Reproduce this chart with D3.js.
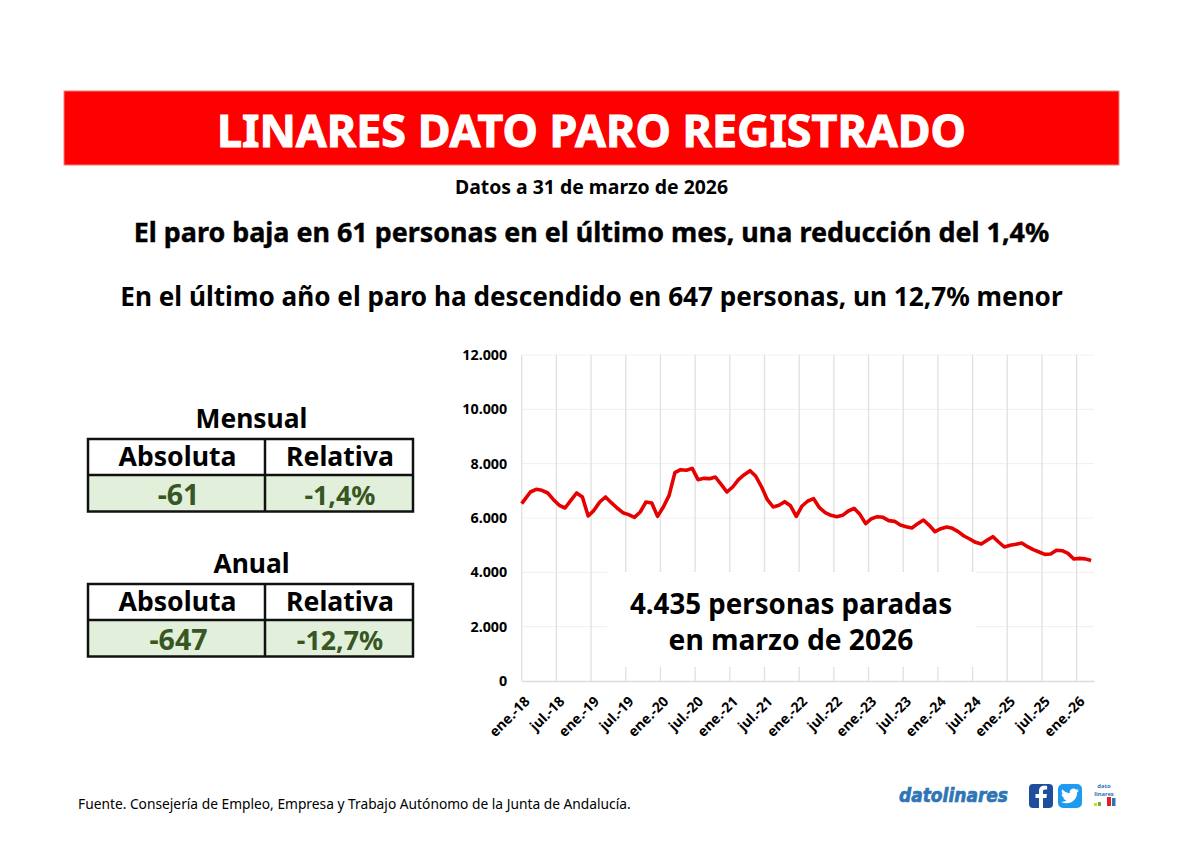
<!DOCTYPE html>
<html lang="es">
<head>
<meta charset="utf-8">
<title>Linares: paro registrado</title>
<script src="https://cdn.jsdelivr.net/npm/d3@7"></script>
<style>
  html, body { margin: 0; background: #fff; }
  svg { display: block; }
  text { font-family: "Noto Sans", "Open Sans", sans-serif; font-weight: 700; fill: #000; }
</style>
</head>
<body>
<svg id="page" width="1200" height="848"></svg>
<script>
// Personas paradas registradas, de enero de 2018 a marzo de 2026
const parados = [
  6530, 6957, 7055, 7018, 6920, 6675, 6466, 6368, 6650, 6920, 6773, 6074,
  6282, 6589, 6773, 6564, 6368, 6196, 6123, 6025, 6221, 6589, 6552, 6061,
  6405, 6834, 7669, 7779, 7755, 7828, 7411, 7460, 7448, 7509, 7239, 6957,
  7141, 7411, 7595, 7742, 7534, 7141, 6675, 6405, 6466, 6601, 6450, 6061,
  6442, 6626, 6712, 6380, 6196, 6098, 6049, 6098, 6258, 6356, 6135, 5791,
  5975, 6049, 6025, 5902, 5877, 5742, 5681, 5632, 5791, 5926, 5730, 5497,
  5607, 5669, 5620, 5497, 5337, 5227, 5104, 5043, 5178, 5313, 5117, 4932,
  4994, 5031, 5082, 4945, 4834, 4748, 4662, 4675, 4810, 4797, 4699, 4491,
  4515, 4496, 4435
];
const etiquetasMeses = [
  "ene.-18", "jul.-18", "ene.-19", "jul.-19", "ene.-20", "jul.-20",
  "ene.-21", "jul.-21", "ene.-22", "jul.-22", "ene.-23", "jul.-23",
  "ene.-24", "jul.-24", "ene.-25", "jul.-25", "ene.-26"
];
const marcasY = [0, 2000, 4000, 6000, 8000, 10000, 12000];
const tablas = [
  { titulo: "Mensual", absoluta: "-61", relativa: "-1,4%" },
  { titulo: "Anual", absoluta: "-647", relativa: "-12,7%" }
];
const cabeceras = ["Absoluta", "Relativa"];
const titulo = "LINARES DATO PARO REGISTRADO";
const fecha = "Datos a 31 de marzo de 2026";
const titularMes = "El paro baja en 61 personas en el último mes, una reducción del 1,4%";
const titularAnio = "En el último año el paro ha descendido en 647 personas, un 12,7% menor";
const notaParados = ["4.435 personas paradas", "en marzo de 2026"];
const fuente = "Fuente. Consejería de Empleo, Empresa y Trabajo Autónomo de la Junta de Andalucía.";

const svg = d3.select("#page");
const textoCentrado = (x, y, size, str) => svg.append("text")
  .attr("x", x).attr("y", y).attr("text-anchor", "middle")
  .attr("font-size", size).text(str);

// Cabecera
svg.append("rect").attr("x", 64).attr("y", 91).attr("width", 1055).attr("height", 74)
  .attr("fill", "#ff0000").attr("stroke", "#f08080").attr("stroke-width", 1);
textoCentrado(591.5, 147, 44.8, titulo).style("fill", "#fff").attr("stroke", "#fff").attr("stroke-width", 1);
textoCentrado(591.5, 194, 19.4, fecha);
textoCentrado(591.5, 242, 26.9, titularMes).attr("stroke", "#000").attr("stroke-width", .4);
textoCentrado(591.5, 306, 26.15, titularAnio);

// Gráfico de líneas: cada mes ocupa un tramo del eje y el punto va en su centro;
// la primera observación arranca en el borde izquierdo
const plot = { left: 521.7, right: 1094, top: 355, bottom: 681 };
const x = d3.scaleLinear().domain([0, parados.length]).range([plot.left, plot.right]);
const y = d3.scaleLinear().domain([0, 12000]).range([plot.bottom, plot.top]);
const miles = d3.formatLocale({ decimal: ",", thousands: ".", grouping: [3], currency: ["", "€"] }).format(",d");
const marcasX = etiquetasMeses.map((_, i) => i * 6);

svg.append("g").selectAll("line").data(marcasY.filter(v => v > 0)).join("line")
  .attr("x1", plot.left).attr("x2", plot.right)
  .attr("y1", d => y(d)).attr("y2", d => y(d))
  .attr("stroke", "#f1f1f1").attr("stroke-width", 1.2);
svg.append("g").selectAll("line").data(marcasX).join("line")
  .attr("x1", d => x(d)).attr("x2", d => x(d))
  .attr("y1", plot.top).attr("y2", plot.bottom)
  .attr("stroke", "#e0e0e0").attr("stroke-width", 1.3);

// Recuadro blanco de la nota, que tapa la rejilla
svg.append("rect").attr("x", 607).attr("y", 572).attr("width", 369).attr("height", 95).attr("fill", "#fff");

const ejeY = d3.axisLeft(y).tickValues(marcasY).tickFormat(miles).tickSize(0).tickPadding(14.5);
svg.append("g").attr("transform", `translate(${plot.left},0)`).call(ejeY)
  .call(g => g.select(".domain").remove())
  .selectAll("text").attr("font-size", 14.3).style("font-family", null);

const ejeX = d3.axisBottom(x).tickValues(marcasX)
  .tickFormat((_, i) => etiquetasMeses[i]).tickSize(0).tickPadding(9);
svg.append("g").attr("transform", `translate(0,${plot.bottom})`).call(ejeX)
  .call(g => g.select(".domain").attr("stroke", "#dcdcdc").attr("stroke-width", 1.6))
  .selectAll("text").attr("font-size", 14).style("font-family", null)
  .attr("text-anchor", "end").attr("dx", "-9").attr("dy", "12")
  .attr("transform", "rotate(-45)");

const linea = d3.line().x((_, i) => x(i === 0 ? 0 : i + .5)).y(d => y(d));
svg.append("path").datum(parados).attr("d", linea)
  .attr("fill", "none").attr("stroke", "#e60000").attr("stroke-width", 3.6)
  .attr("stroke-linejoin", "round");

textoCentrado(791, 614, 27.7, notaParados[0]);
textoCentrado(791, 650, 28.2, notaParados[1]);

// Tablas de variación
const columnas = [88, 265, 413];
const filas = [0, 36, 72.5];
tablas.forEach((t, k) => {
  const base = 439 + k * 145;
  textoCentrado(251.5, base - 11, 26.4, t.titulo);
  svg.append("rect").attr("x", columnas[0]).attr("y", base + filas[1])
    .attr("width", columnas[2] - columnas[0]).attr("height", filas[2] - filas[1]).attr("fill", "#e2efda");
  const g = svg.append("g").attr("stroke", "#111").attr("stroke-width", 2.5).attr("fill", "none");
  g.append("rect").attr("x", columnas[0]).attr("y", base)
    .attr("width", columnas[2] - columnas[0]).attr("height", filas[2]);
  g.append("line").attr("x1", columnas[0]).attr("x2", columnas[2]).attr("y1", base + filas[1]).attr("y2", base + filas[1]);
  g.append("line").attr("x1", columnas[1]).attr("x2", columnas[1]).attr("y1", base).attr("y2", base + filas[2]);
  [t.absoluta, t.relativa].forEach((valor, c) => {
    const cx = (columnas[c] + columnas[c + 1]) / 2 + (c === 0 ? 1 : 1);
    textoCentrado(cx, base + 26.5, 26.6, cabeceras[c]);
    textoCentrado(cx + (c === 0 ? 1 : 0), base + 65.5, c === 0 ? 28.5 : 26.8, valor).style("fill", "#375623");
  });
});

// Pie de página
svg.append("text").attr("x", 78).attr("y", 809).attr("font-size", 13.78)
  .style("font-weight", 400).text(fuente);
svg.append("text").attr("x", 899).attr("y", 801.5).attr("font-size", 19)
  .style("fill", "#2e75b6").style("font-style", "italic").style("font-family", "'DejaVu Sans'")
  .attr("stroke", "#2e75b6").attr("stroke-width", .7)
  .attr("textLength", 109).attr("lengthAdjust", "spacingAndGlyphs").text("datolinares");

// Iconos de redes sociales
const fb = svg.append("g").attr("transform", "translate(1029,784)");
fb.append("rect").attr("width", 24).attr("height", 24).attr("rx", 4).attr("fill", "#1f4e9c");
fb.append("path").attr("fill", "#fff")
  .attr("d", "M14 24v-10h3.4l.5-4H14V7.5c0-1.15.3-1.95 2-1.95h2.1V2c-.4-.05-1.6-.15-3-.15-3 0-5.1 1.85-5.1 5.2V10H6.5v4H10v10z");
const tw = svg.append("g").attr("transform", "translate(1058,784)");
tw.append("rect").attr("width", 24).attr("height", 24).attr("rx", 5).attr("fill", "#1d9bf0");
tw.append("path").attr("fill", "#fff").attr("transform", "translate(3,3) scale(.75)")
  .attr("d", "M23.953 4.57a10 10 0 01-2.825.775 4.958 4.958 0 002.163-2.723c-.951.555-2.005.959-3.127 1.184a4.92 4.92 0 00-8.384 4.482C7.69 8.095 4.067 6.13 1.64 3.162a4.822 4.822 0 00-.666 2.475c0 1.71.87 3.213 2.188 4.096a4.904 4.904 0 01-2.228-.616v.06a4.923 4.923 0 003.946 4.827 4.996 4.996 0 01-2.212.085 4.936 4.936 0 004.604 3.417 9.867 9.867 0 01-6.102 2.105c-.39 0-.779-.023-1.17-.067a13.995 13.995 0 007.557 2.209c9.053 0 13.998-7.496 13.998-13.985 0-.21 0-.42-.015-.63A9.935 9.935 0 0024 4.59z");

// Marca pequeña con barras
const logoLineas = ["dato", "linares"];
const logoBarras = [
  { x: 1094, w: 3, h: 3, color: "#c5e01b" },
  { x: 1098, w: 3, h: 4, color: "#70ad47" },
  { x: 1107, w: 4, h: 9, color: "#e02020" },
  { x: 1112, w: 3.5, h: 8, color: "#2e75b6" }
];
logoLineas.forEach((s, i) => svg.append("text").attr("x", 1104).attr("y", 788 + i * 8)
  .attr("text-anchor", "middle").attr("font-size", 5.8).style("fill", "#2e75b6").text(s));
svg.append("g").selectAll("rect").data(logoBarras).join("rect")
  .attr("x", d => d.x).attr("y", d => 806 - d.h).attr("width", d => d.w)
  .attr("height", d => d.h).attr("fill", d => d.color);
</script>
</body>
</html>
